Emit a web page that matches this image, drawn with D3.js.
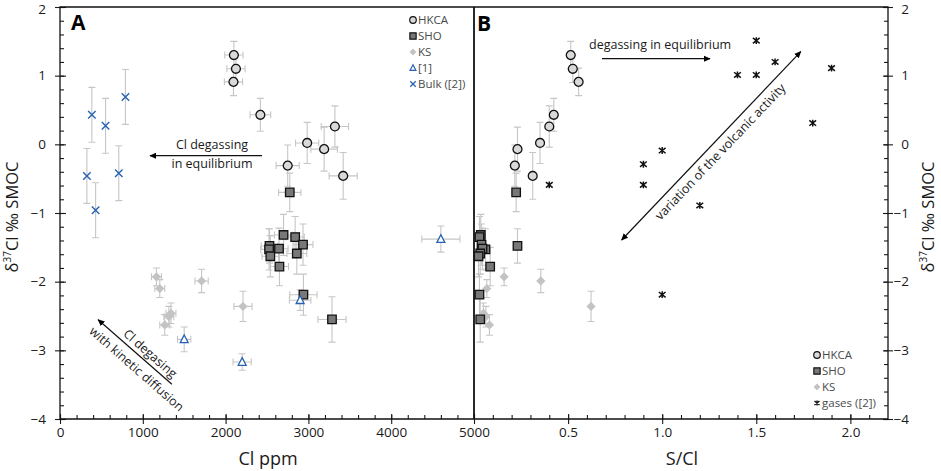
<!DOCTYPE html>
<html>
<head>
<meta charset="UTF-8" />
<style>
  body { margin: 0; background: #fff; }
  svg { display: block; font-family: "Open Sans", sans-serif; }
</style>
</head>
<body>
<svg></svg>
<script src="https://d3js.org/d3.v7.min.js"></script>
<script>
// HKCA melt inclusions
let hkcaCl = [2100, 2125, 2095, 2420, 2985, 3320, 3190, 2750, 3420];
let hkcaSCl = [0.514, 0.525, 0.556, 0.424, 0.351, 0.40, 0.231, 0.217, 0.312];
let hkcaD = [1.30, 1.10, 0.91, 0.43, 0.02, 0.26, -0.07, -0.31, -0.46];
let hkcaDErr = [0.2, 0.2, 0.2, 0.24, 0.3, 0.3, 0.32, 0.3, 0.34];
let hkcaClErr = [110, 110, 110, 125, 140, 165, 160, 140, 170];

// SHO melt inclusions
let shoCl = [2775, 2700, 2840, 2935, 2530, 2525, 2645, 2860, 2540, 2650, 2940, 3285];
let shoSCl = [0.224, 0.036, 0.029, 0.04, 0.231, 0.061, 0.045, 0.033, 0.024, 0.086, 0.029, 0.033];
let shoD = [-0.70, -1.32, -1.35, -1.46, -1.48, -1.53, -1.52, -1.59, -1.63, -1.78, -2.19, -2.55];
let shoDErr = [0.28, 0.3, 0.3, 0.3, 0.25, 0.3, 0.3, 0.3, 0.3, 0.28, 0.3, 0.33];
let shoClErr = [135, 110, 110, 120, 100, 100, 110, 120, 100, 110, 165, 170];

// KS melt inclusions
let ksCl = [1165, 1205, 1710, 2210, 1340, 1315, 1265];
let ksSCl = [0.16, 0.068, 0.355, 0.622, 0.05, 0.063, 0.082];
let ksD = [-1.93, -2.10, -1.99, -2.36, -2.46, -2.51, -2.63];
let ksDErr = [0.13, 0.13, 0.17, 0.22, 0.15, 0.15, 0.15];
let ksClErr = [60, 60, 80, 110, 60, 60, 60];

// [1]
let ref1Cl = [4600, 2900, 1500, 2200];
let ref1D = [-1.38, -2.27, -2.84, -3.17];
let ref1DErr = [0.19, 0.15, 0.18, 0.12];
let ref1ClErr = [230, 130, 80, 110];

// Bulk ([2])
let bulkCl = [385, 550, 790, 325, 710, 430];
let bulkD = [0.43, 0.27, 0.69, -0.46, -0.42, -0.96];
let bulkDErr = [0.4, 0.4, 0.4, 0.4, 0.4, 0.4];

// gases ([2])
let gasSCl = [1.5, 1.4, 1.5, 1.6, 1.9, 1.8, 1.0, 0.9, 0.9, 0.4, 1.2, 1.0];
let gasD = [1.51, 1.01, 1.01, 1.20, 1.11, 0.31, -0.09, -0.29, -0.59, -0.59, -0.89, -2.19];

let clTicks = [0, 1000, 2000, 3000, 4000, 5000];
let sclTicks = [0.5, 1.0, 1.5, 2.0];
let dTicks = [-4, -3, -2, -1, 0, 1, 2];

let width = 941, height = 471;
let svg = d3.select("svg").attr("width", width).attr("height", height);

let xA = d3.scaleLinear().domain([0, 5000]).range([60, 474]);
let xB = d3.scaleLinear().domain([0, 2.2]).range([474, 888]);
let y = d3.scaleLinear().domain([-4, 2]).range([419, 7]);

let errCol = "#c6c6c6", blue = "#2762b0", tickCol = "#1a1a1a";

svg.append("defs").selectAll("marker")
  .data(["arrow"])
  .join("marker")
  .attr("id", d => d)
  .attr("viewBox", "0 -5 10 10")
  .attr("refX", 9)
  .attr("refY", 0)
  .attr("markerWidth", 7)
  .attr("markerHeight", 7)
  .attr("markerUnits", "userSpaceOnUse")
  .attr("orient", "auto-start-reverse")
  .append("path")
  .attr("fill", "black")
  .attr("d", "M0,-4.5L10,0L0,4.5Z");

// ---- axes ----
function noDomain(g) { g.select(".domain").remove(); }

// bottom, panel A
svg.append("g").attr("transform", "translate(0,419)")
  .call(d3.axisBottom(xA).tickValues(d3.range(0, 5001, 200)).tickSize(-4).tickFormat(""))
  .call(noDomain);
svg.append("g").attr("transform", "translate(0,419)")
  .call(d3.axisBottom(xA).tickValues(clTicks).tickSize(5).tickPadding(3).tickFormat(d3.format("d")))
  .call(noDomain);
svg.append("g").attr("transform", "translate(0,419)")
  .call(d3.axisBottom(xA).tickValues(clTicks).tickSize(-5).tickFormat(""))
  .call(noDomain);

// bottom, panel B
svg.append("g").attr("transform", "translate(0,419)")
  .call(d3.axisBottom(xB).tickValues(d3.range(1, 22).map(d => d / 10)).tickSize(-4).tickFormat(""))
  .call(noDomain);
svg.append("g").attr("transform", "translate(0,419)")
  .call(d3.axisBottom(xB).tickValues(sclTicks).tickSize(5).tickPadding(3).tickFormat(d3.format(".1f")))
  .call(noDomain);
svg.append("g").attr("transform", "translate(0,419)")
  .call(d3.axisBottom(xB).tickValues(sclTicks).tickSize(-5).tickFormat(""))
  .call(noDomain);

let minorD = d3.range(-20, 11).map(d => d / 5);

// left
svg.append("g").attr("transform", "translate(60,0)")
  .call(d3.axisLeft(y).tickValues(minorD).tickSize(-4).tickFormat(""))
  .call(noDomain);
let leftAx = svg.append("g").attr("transform", "translate(60,0)")
  .call(d3.axisLeft(y).tickValues(dTicks).tickSize(5).tickPadding(9).tickFormat(d3.format("d")))
  .call(noDomain);
svg.append("g").attr("transform", "translate(60,0)")
  .call(d3.axisLeft(y).tickValues(dTicks).tickSize(-6).tickFormat(""))
  .call(noDomain);

// right
svg.append("g").attr("transform", "translate(888,0)")
  .call(d3.axisRight(y).tickValues(minorD).tickSize(-4).tickFormat(""))
  .call(noDomain);
let rightAx = svg.append("g").attr("transform", "translate(888,0)")
  .call(d3.axisRight(y).tickValues(dTicks).tickSize(5).tickFormat(d3.format("d")))
  .call(noDomain);
rightAx.selectAll("text").attr("text-anchor", "end").attr("x", 21);
svg.append("g").attr("transform", "translate(888,0)")
  .call(d3.axisRight(y).tickValues(dTicks).tickSize(-5).tickFormat(""))
  .call(noDomain);

// keep the top "2" inside the picture
[leftAx, rightAx].forEach(ax => ax.selectAll(".tick text").filter(d => d === 2).attr("dy", "0.5em"));

svg.selectAll(".tick line").attr("stroke", tickCol).attr("stroke-width", 1.1);
svg.selectAll(".tick text").attr("font-family", "Open Sans").attr("font-size", 13.5).attr("fill", "#1a1a1a");

// frame
let frame = svg.append("g").attr("stroke", "#111").attr("stroke-width", 1.3).attr("fill", "none");
frame.append("path").attr("d", `M${xA(0)},${y(-4)}V${y(2)}H${xB(2.2)}V${y(-4)}Z`);
frame.append("line").attr("x1", xA(5000)).attr("x2", xA(5000)).attr("y1", y(2)).attr("y2", y(-4)).attr("stroke-width", 1.8);

// axis titles
svg.append("text").attr("x", 268).attr("y", 465).attr("text-anchor", "middle")
  .attr("font-size", 18).attr("fill", "#1a1a1a").text("Cl ppm");
svg.append("text").attr("x", 682).attr("y", 465).attr("text-anchor", "middle")
  .attr("font-size", 18).attr("fill", "#1a1a1a").text("S/Cl");

function yTitle(x) {
  let t = svg.append("text")
    .attr("transform", `translate(${x},217) rotate(-90)`)
    .attr("text-anchor", "middle").attr("font-size", 16.5).attr("fill", "#1a1a1a");
  t.append("tspan").text("δ");
  t.append("tspan").attr("font-size", 10).attr("dy", -7).text("37");
  t.append("tspan").attr("dy", 7).text("Cl ‰ SMOC");
}
yTitle(18);
yTitle(934);

// panel letters
svg.append("text").attr("x", 71).attr("y", 30).attr("font-size", 21).attr("font-weight", "bold").text("A");
svg.append("text").attr("x", 477).attr("y", 31).attr("font-size", 21).attr("font-weight", "bold").text("B");

// ---- data ----
function rows(xs, ds, xe, de) {
  return xs.map((v, i) => ({ x: v, d: ds[i], xe: xe ? xe[i] : 0, de: de ? de[i] : 0 }));
}

function errorBars(data, x) {
  let g = svg.append("g").attr("stroke", errCol).attr("stroke-width", 1.1).attr("fill", "none");
  let cap = 3.5;
  data.forEach(p => {
    let cx = x(p.x), cy = y(p.d);
    if (p.de) {
      let y0 = y(p.d - p.de), y1 = y(p.d + p.de);
      g.append("path").attr("d", `M${cx},${y0}V${y1}M${cx - cap},${y0}H${cx + cap}M${cx - cap},${y1}H${cx + cap}`);
    }
    if (p.xe) {
      let x0 = x(p.x - p.xe), x1 = x(p.x + p.xe);
      g.append("path").attr("d", `M${x0},${cy}H${x1}M${x0},${cy - cap}V${cy + cap}M${x1},${cy - cap}V${cy + cap}`);
    }
  });
}

let symX = {
  draw(ctx, size) {
    let r = Math.sqrt(size) / 2;
    ctx.moveTo(-r, -r); ctx.lineTo(r, r);
    ctx.moveTo(-r, r); ctx.lineTo(r, -r);
  }
};
let symGas = {
  draw(ctx, size) {
    let r = Math.sqrt(size) / 2;
    ctx.moveTo(-r, -r * 0.8); ctx.lineTo(r, r * 0.8);
    ctx.moveTo(-r, r * 0.8); ctx.lineTo(r, -r * 0.8);
    ctx.moveTo(0, -r); ctx.lineTo(0, r);
  }
};
let symDiamond = {
  draw(ctx, size) {
    let r = Math.sqrt(size) / 2;
    ctx.moveTo(0, -r); ctx.lineTo(r, 0); ctx.lineTo(0, r); ctx.lineTo(-r, 0); ctx.closePath();
  }
};
let symTri = {
  draw(ctx, size) {
    let r = Math.sqrt(size) / 2;
    ctx.moveTo(0, -r); ctx.lineTo(r * 0.9, r * 0.75); ctx.lineTo(-r * 0.9, r * 0.75); ctx.closePath();
  }
};

let styles = {
  hkca: { type: d3.symbolCircle, size: 62, fill: "#d9d9d9", stroke: "#111", sw: 1.3 },
  sho: { type: d3.symbolSquare, size: 72, fill: "#787878", stroke: "#111", sw: 1.3 },
  ks: { type: symDiamond, size: 85, fill: "#c3c3c3", stroke: "none", sw: 0 },
  ref1: { type: symTri, size: 78, fill: "#fff", stroke: blue, sw: 1.3 },
  bulk: { type: symX, size: 56, fill: "none", stroke: blue, sw: 1.4 },
  gas: { type: symGas, size: 46, fill: "none", stroke: "#111", sw: 1.5 }
};

function points(data, x, st) {
  svg.append("g").selectAll("path")
    .data(data)
    .join("path")
    .attr("transform", p => `translate(${x(p.x)},${y(p.d)})`)
    .attr("d", d3.symbol().type(st.type).size(st.size))
    .attr("fill", st.fill)
    .attr("stroke", st.stroke)
    .attr("stroke-width", st.sw);
}

// panel A
let aKs = rows(ksCl, ksD, ksClErr, ksDErr);
let aHk = rows(hkcaCl, hkcaD, hkcaClErr, hkcaDErr);
let aSho = rows(shoCl, shoD, shoClErr, shoDErr);
let aRef = rows(ref1Cl, ref1D, ref1ClErr, ref1DErr);
let aBulk = rows(bulkCl, bulkD, null, bulkDErr);
[aKs, aHk, aSho, aRef, aBulk].forEach(d => errorBars(d, xA));
points(aKs, xA, styles.ks);
points(aHk, xA, styles.hkca);
points(aSho, xA, styles.sho);
points(aRef, xA, styles.ref1);
points(aBulk, xA, styles.bulk);

// panel B
let bKs = rows(ksSCl, ksD, null, ksDErr);
let bHk = rows(hkcaSCl, hkcaD, null, hkcaDErr);
let bSho = rows(shoSCl, shoD, null, shoDErr);
let bGas = rows(gasSCl, gasD);
[bKs, bHk, bSho].forEach(d => errorBars(d, xB));
points(bKs, xB, styles.ks);
points(bHk, xB, styles.hkca);
points(bSho, xB, styles.sho);
points(bGas, xB, styles.gas);

// ---- legends ----
function legend(x0, y0, items) {
  let g = svg.append("g").attr("transform", `translate(${x0},${y0})`);
  items.forEach((it, i) => {
    let st = styles[it[0]];
    let scale = 0.55;
    g.append("path")
      .attr("transform", `translate(0,${i * 16})`)
      .attr("d", d3.symbol().type(st.type).size(st.size * scale))
      .attr("fill", st.fill).attr("stroke", st.stroke).attr("stroke-width", st.sw * 0.9);
    g.append("text").attr("x", 5).attr("y", i * 16).attr("dy", "0.35em")
      .attr("font-size", 11.5).attr("fill", "#4a4a4a").text(it[1]);
  });
}
legend(413, 20, [["hkca", "HKCA"], ["sho", "SHO"], ["ks", "KS"], ["ref1", "[1]"], ["bulk", "Bulk ([2])"]]);
legend(817, 355, [["hkca", "HKCA"], ["sho", "SHO"], ["ks", "KS"], ["gas", "gases ([2])"]]);

// ---- annotations ----
let ann = svg.append("g").attr("fill", "#1a1a1a").attr("font-size", 12.5);
ann.append("text").attr("x", 212).attr("y", 149).attr("text-anchor", "middle").text("Cl degassing");
ann.append("text").attr("x", 212).attr("y", 168).attr("text-anchor", "middle").text("in equilibrium");
svg.append("line").attr("x1", 262).attr("y1", 155.7).attr("x2", 150).attr("y2", 155.7)
  .attr("stroke", "#111").attr("stroke-width", 1.2).attr("marker-end", "url(#arrow)");

let kin = svg.append("g").attr("transform", "translate(135,352) rotate(41.2)");
kin.append("line").attr("x1", 49).attr("y1", 0).attr("x2", -49).attr("y2", 0)
  .attr("stroke", "#111").attr("stroke-width", 1.2).attr("marker-end", "url(#arrow)");
kin.append("text").attr("x", 12.5).attr("y", -4.5).attr("text-anchor", "middle")
  .attr("font-size", 12.5).attr("fill", "#1a1a1a").text("Cl degasing");
kin.append("text").attr("x", 12.5).attr("y", 16).attr("text-anchor", "middle")
  .attr("font-size", 12.5).attr("fill", "#1a1a1a").text("with kinetic diffusion");

ann.append("text").attr("x", 589).attr("y", 49).text("degassing in equilibrium");
svg.append("line").attr("x1", 602).attr("y1", 58.7).attr("x2", 710).attr("y2", 58.7)
  .attr("stroke", "#111").attr("stroke-width", 1.2).attr("marker-end", "url(#arrow)");

let vol = svg.append("g").attr("transform", "translate(711.2,145.8) rotate(-46.45)");
vol.append("line").attr("x1", -130).attr("y1", 0).attr("x2", 130).attr("y2", 0)
  .attr("stroke", "#111").attr("stroke-width", 1.2)
  .attr("marker-start", "url(#arrow)").attr("marker-end", "url(#arrow)");
vol.append("text").attr("x", 2).attr("y", 15).attr("text-anchor", "middle")
  .attr("font-size", 12.5).attr("fill", "#1a1a1a").text("variation of the volcanic activity");
</script>
</body>
</html>
